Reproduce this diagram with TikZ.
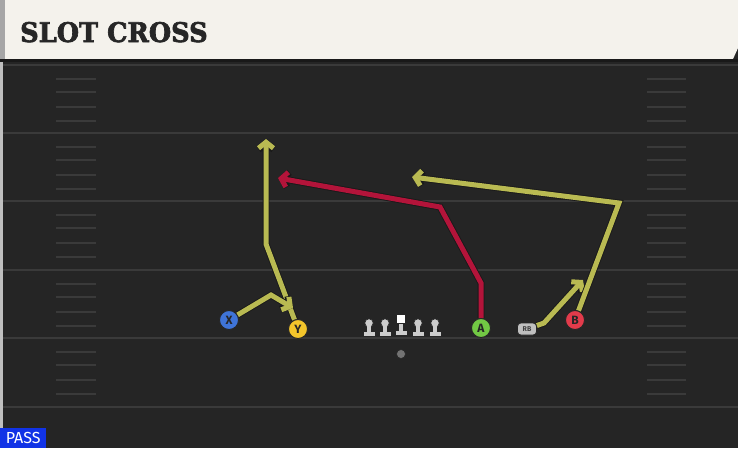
\documentclass[tikz,border=0pt]{standalone}
\usepackage{fontspec}
\setmainfont{DejaVu Serif}
\setsansfont{Fira Sans}
\newfontfamily\titlefont{DejaVu Serif}[FakeBold=2.4, FakeStretch=0.95]
\usepackage{tikz}
\usetikzlibrary{arrows.meta,positioning}

\definecolor{fieldbg}{HTML}{252525}
\definecolor{yardline}{HTML}{3A3A3A}
\definecolor{cream}{HTML}{F4F2EC}
\definecolor{olive}{HTML}{B9BA52}
\definecolor{crimson}{HTML}{B3143A}
\definecolor{xblue}{HTML}{3F74D8}
\definecolor{ygold}{HTML}{F3C52B}
\definecolor{agreen}{HTML}{72C944}
\definecolor{bred}{HTML}{E23B4B}
\definecolor{passblue}{HTML}{1133E6}

\pgfdeclarelayer{ground}
\pgfdeclarelayer{routes}
\pgfsetlayers{ground,routes,main}

\begin{document}
\begin{tikzpicture}[x=1pt,y=-1pt]
	\tikzstyle{Player}	= [circle, draw=black!85, line width=.9pt, minimum size=19pt, inner sep=0pt, font=\sffamily\bfseries\fontsize{12}{12}\selectfont, text=black!85]
	\tikzstyle{Back}	= [rounded corners=3.5pt, draw=black!85, line width=.7pt, fill=black!25, minimum width=19pt, minimum height=12pt, inner sep=0pt, font=\sffamily\bfseries\fontsize{7}{7}\selectfont, text=black!75]
	\tikzstyle{Route}	= [line width=5pt, preaction={draw=black!90, line width=6.8pt}, -{Straight Barb[length=6pt, width=15pt]}]
	\tikzstyle{Yard}	= [yardline, line width=2pt]
	\tikzstyle{Hash}	= [yardline, line width=1.6pt]
	\tikzstyle{Lineman}	= [fill=black!20, draw=black!85, line width=.6pt]

	% field and header
	\begin{pgfonlayer}{ground}
	\useasboundingbox (0,0) rectangle (738,448);
	\fill[fieldbg] (0,0) rectangle (738,448);
	\fill[black!25] (0,62) rectangle (3,448);
	\fill[cream] (0,0) -- (738,0) -- (738,48) -- (733,59) -- (0,59) -- cycle;
	\fill[black!35] (0,0) rectangle (5,59);
	\fill[black!90] (0,59) rectangle (738,62);
	\foreach \y in {65,133,201,270,338,407} {
		\draw[Yard] (3,\y) -- (738,\y);
	}
	\foreach \y in {65,133,201,270,338} {
		\foreach \d in {14,27,42,56} {
			\draw[Hash] (56,\y+\d) -- (96,\y+\d);
			\draw[Hash] (647,\y+\d) -- (686,\y+\d);
		}
	}
	\end{pgfonlayer}
	\node[anchor=base west, inner sep=0pt, font=\titlefont\bfseries\fontsize{27}{27}\selectfont, text=black!85] (title) at (20,42) {SLOT CROSS};

	% players
	\node (X) at (229,320) [Player, fill=xblue] {X};
	\node (Y) at (298,329) [Player, fill=ygold] {Y};
	\node (A) at (481,328) [Player, fill=agreen] {A};
	\node (RB) at (527,329) [Back] {RB};
	\node (B) at (575,320) [Player, fill=bred] {B};
	\node (QB) at (401,354) [circle, fill=black!55, draw=black!85, line width=.6pt, minimum size=9pt, inner sep=0pt] {};

	% line
	\foreach \x [count=\i] in {369,385,418,435} {
		\coordinate (l\i) at (\x,336);
		\fill[Lineman] ([xshift=-6pt]l\i) rectangle ([xshift=6pt, yshift=5pt]l\i);
		\fill[Lineman] ([xshift=-2pt, yshift=12pt]l\i) rectangle ([xshift=2pt, yshift=5pt]l\i);
		\fill[Lineman] ([yshift=13pt]l\i) circle (4.2pt);
		\fill[black!20] ([xshift=-1.6pt, yshift=10pt]l\i) rectangle ([xshift=1.6pt, yshift=4.4pt]l\i);
	}
	\coordinate (C) at (401,335);
	\fill[Lineman] ([xshift=-6pt]C) rectangle ([xshift=6pt, yshift=5pt]C);
	\fill[Lineman] ([xshift=-2pt, yshift=13pt]C) rectangle ([xshift=2pt, yshift=5pt]C);
	\fill[black!20] ([xshift=-1.6pt, yshift=12pt]C) rectangle ([xshift=1.6pt, yshift=4.4pt]C);
	\fill[white, draw=black!85, line width=.6pt] ([xshift=-4.5pt, yshift=21pt]C) rectangle ([xshift=4.5pt, yshift=12pt]C);

	% route bends
	\coordinate (y1) at (266,244);
	\coordinate (y2) at (266,139);
	\coordinate (x1) at (271,295);
	\coordinate (x2) at (293,308);
	\coordinate (a1) at (481,283);
	\coordinate (a2) at (440,207);
	\coordinate (a3) at (278,178);
	\coordinate (r1) at (544,323);
	\coordinate (r2) at (583,280);
	\coordinate (b1) at (619,203);
	\coordinate (b2) at (412,177);

	% routes
	\begin{pgfonlayer}{routes}
	\draw[Route, olive] (Y) -- (y1) -- (y2);
	\draw[Route, olive] (X) -- (x1) -- (x2);
	\draw[Route, crimson] (A) -- (a1) -- (a2) -- (a3);
	\draw[Route, olive] (RB) -- (r1) -- (r2);
	\draw[Route, olive] (B) -- (b1) -- (b2);
	\end{pgfonlayer}

	% play type
	\node[anchor=south west, fill=passblue, text=white, inner sep=0pt, minimum width=46pt, minimum height=20pt, font=\sffamily\fontsize{16}{16}\selectfont] (pass) at (0,448) {PASS};
\end{tikzpicture}
\end{document}
